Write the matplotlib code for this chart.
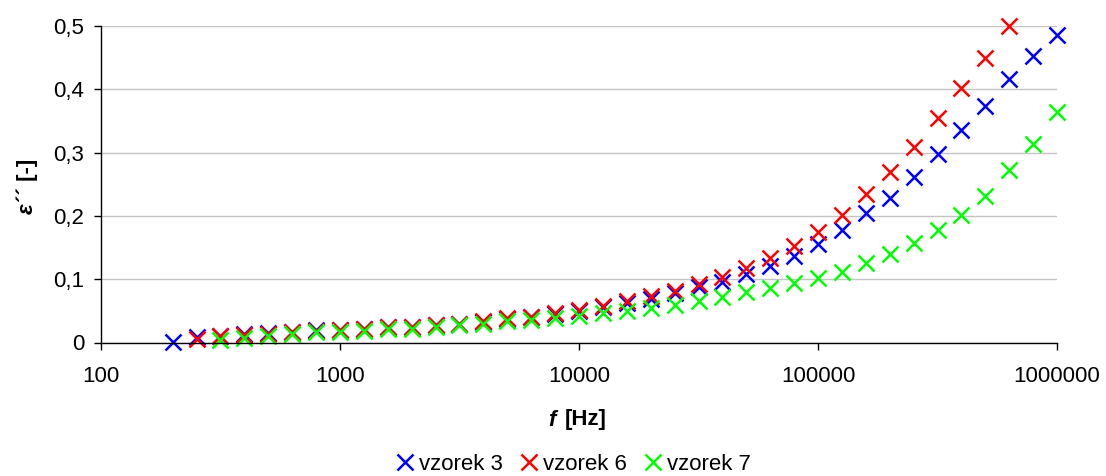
import matplotlib
matplotlib.use("Agg")
import matplotlib.pyplot as plt
from matplotlib.ticker import FixedLocator, FixedFormatter, NullLocator

plt.rcParams['font.family'] = ['Liberation Sans', 'DejaVu Sans']

# frequencies [Hz], 10 per decade
freq = [200, 251, 316, 398, 501, 631, 794, 1000,
        1259, 1585, 1995, 2512, 3162, 3981, 5012, 6310, 7943, 10000,
        12589, 15849, 19953, 25119, 31623, 39811, 50119, 63096, 79433, 100000,
        125893, 158489, 199526, 251189, 316228, 398107, 501187, 630957, 794328, 1000000]

eps_v3 = [0.001, 0.008, 0.011, 0.013, 0.015, 0.017, 0.019, 0.020,
          0.021, 0.024, 0.025, 0.028, 0.029, 0.033, 0.037, 0.040, 0.045,
          0.050, 0.056, 0.062, 0.068, 0.078, 0.088, 0.096, 0.108, 0.121, 0.136,
          0.155, 0.178, 0.204, 0.229, 0.262, 0.298, 0.335, 0.373, 0.416, 0.453, 0.485]
freq_v3 = freq

eps_v6 = [0.006, 0.010, 0.012, 0.014, 0.016, 0.018, 0.020,
          0.021, 0.024, 0.025, 0.028, 0.029, 0.034, 0.038, 0.041, 0.046,
          0.052, 0.058, 0.065, 0.074, 0.082, 0.093, 0.103, 0.117, 0.133, 0.153,
          0.175, 0.202, 0.234, 0.269, 0.309, 0.355, 0.402, 0.450, 0.500]
freq_v6 = freq[1:36]

eps_v7 = [0.004, 0.007, 0.010, 0.014, 0.016, 0.017,
          0.018, 0.021, 0.022, 0.025, 0.027, 0.030, 0.034, 0.036, 0.038,
          0.042, 0.046, 0.050, 0.054, 0.059, 0.065, 0.072, 0.079, 0.086, 0.094,
          0.102, 0.112, 0.125, 0.140, 0.157, 0.178, 0.202, 0.232, 0.272, 0.314, 0.364]
freq_v7 = freq[2:]

series = [("vzorek 3", freq_v3, eps_v3, "#0000ff"),
          ("vzorek 6", freq_v6, eps_v6, "#ff0000"),
          ("vzorek 7", freq_v7, eps_v7, "#00ff00")]

xticks = [100, 1000, 10000, 100000, 1000000]
yticks = [0, 0.1, 0.2, 0.3, 0.4, 0.5]

W, H = 1106, 476
fs = 16
fig = plt.figure(figsize=(W / 100, H / 100), dpi=100)
ax = fig.add_axes([101 / W, 1 - 342.5 / H, 956 / W, 316.5 / H])

for name, x, y, c in series:
    ax.plot(x, y, linestyle='none', marker='x', markersize=11.5, mew=1.8,
            color=c, label=name, clip_on=False)

ax.set_xscale('log')
ax.set_xlim(100, 1000000)
ax.set_ylim(0, 0.5)
ax.xaxis.set_major_locator(FixedLocator(xticks))
ax.xaxis.set_major_formatter(FixedFormatter([str(t) for t in xticks]))
ax.xaxis.set_minor_locator(NullLocator())
ax.set_yticks(yticks)
ax.set_yticklabels([("%g" % t).replace('.', ',') for t in yticks])
ax.tick_params(axis='both', labelsize=fs, length=5, width=1, direction='out',
               colors='black')
ax.tick_params(axis='x', pad=12)
ax.tick_params(axis='y', pad=7)
ax.yaxis.grid(True, color='#c4c4c4', linewidth=1)
ax.set_axisbelow(True)
for s in ['top', 'right']:
    ax.spines[s].set_visible(False)
for s in ['left', 'bottom']:
    ax.spines[s].set_color('black')
    ax.spines[s].set_linewidth(1)

# axis labels: symbol in bold italic, rest bold
fig.canvas.draw()
r = fig.canvas.get_renderer()
tf = fig.text(556 / W, 1 - 420 / H, "f", fontsize=fs, fontweight='bold',
              fontstyle='italic', ha='right', va='center')
bb = tf.get_window_extent(r)
fig.text((bb.x1 + 9) / W, 1 - 420 / H, "[Hz]", fontsize=fs, fontweight='bold',
         ha='left', va='center')

te = fig.text(33 / W, 1 - 214 / H, "ε", fontsize=fs, fontweight='bold',
              fontstyle='italic', rotation=90, rotation_mode='anchor',
              ha='left', va='baseline')
bb = te.get_window_extent(r)
fig.text(33 / W, (bb.y1 + 1) / H, "´´ [-]", fontsize=fs, fontweight='bold',
         rotation=90, rotation_mode='anchor', ha='left', va='baseline')

fig.legend(loc='center', bbox_to_anchor=(573 / W, 1 - 464 / H), ncol=3,
           frameon=False, fontsize=fs, handlelength=0.9, handletextpad=0.2,
           columnspacing=0.7, borderpad=0, markerscale=1.0)

fig.savefig("out.png", dpi=100)
